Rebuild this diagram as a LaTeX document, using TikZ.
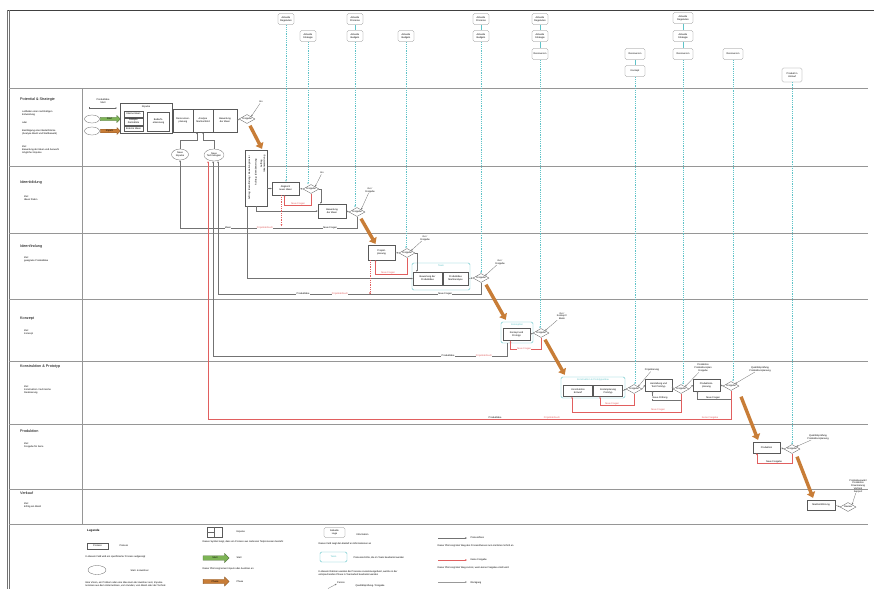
\documentclass[tikz,border=0pt]{standalone}
\usepackage{fontspec}
\setmainfont{Liberation Sans}
\usetikzlibrary{arrows.meta,shapes.geometric,shapes.arrows,calc}
\definecolor{tealc}{RGB}{95,195,200}
\definecolor{redc}{RGB}{225,95,95}
\definecolor{orc}{RGB}{200,125,55}
\definecolor{grnc}{RGB}{125,180,85}
\definecolor{lanec}{RGB}{150,150,150}
\newcommand{\ftiny}{\fontsize{2.4}{2.8}\selectfont}
\newcommand{\fsmall}{\fontsize{3}{3.5}\selectfont}
\newcommand{\flane}{\fontsize{3.8}{4.4}\selectfont}
\begin{document}
\begin{tikzpicture}[x=1pt,y=-1pt,
  proc/.style={draw=black!65, line width=0.3pt, fill=white, align=center, font=\ftiny, inner sep=0.3pt},
  gate/.style={diamond, aspect=2, draw=black!65, line width=0.3pt, fill=white, font=\ftiny, inner sep=0pt, minimum width=16pt, minimum height=9pt},
  ext/.style={draw=black!50, rounded corners=1.5pt, line width=0.3pt, fill=white, align=center, font=\ftiny, inner sep=0.3pt, minimum height=11pt, minimum width=16pt},
  grp/.style={draw=tealc, line width=0.45pt, rounded corners=1.5pt, fill=white},
  flow/.style={draw=black!55, line width=0.3pt, -{Stealth[length=2pt,width=1.6pt]}},
  fbred/.style={draw=redc, line width=0.3pt, -{Stealth[length=2pt,width=1.6pt]}},
  reddash/.style={draw=redc, line width=0.3pt, dash pattern=on 1pt off 0.8pt, -{Stealth[length=2pt,width=1.6pt]}},
  info/.style={draw=tealc, line width=0.45pt, dash pattern=on 1.2pt off 1pt, -{Stealth[length=2pt,width=1.6pt]}},
  infol/.style={draw=tealc, line width=0.4pt},
  phase/.style={draw=orc, line width=3.4pt, -{Triangle[length=5.5pt,width=8.5pt]}},
  lbl/.style={font=\ftiny, fill=white, inner sep=0.3pt},
  lbr/.style={lbl, text=redc},
  note/.style={font=\ftiny, align=center, inner sep=0.3pt},
  lanet/.style={font=\flane, anchor=west, inner sep=0pt},
  laned/.style={font=\ftiny, anchor=north west, align=left, inner sep=0pt},
  lane/.style={draw=lanec, line width=0.5pt},
  sarrow/.style={single arrow, single arrow head extend=1.5pt, inner sep=0.4pt, font=\ftiny, line width=0.3pt}
]
\useasboundingbox (0,0) rectangle (874,589);
\fill[white] (0,0) rectangle (874,589);

% frame and lanes
\draw[black!75, line width=0.6pt] (7,10) -- (874,10);
\draw[black!55, line width=0.5pt] (7,10) -- (7,589);
\draw[black!55, line width=0.5pt] (9.2,10) -- (9.2,589);
\foreach \yy in {88,166,233,299,361,424,489,524} { \draw[lane] (9.2,\yy) -- (868,\yy); }
\draw[lane] (82,88) -- (82,524);

% lane labels
\node[lanet] (ln1) at (20,100) {Potential \& Strategie};
\node[laned] (ld1a) at (22,111) {Leitfaden einer nachhaltigen\\Entwicklung};
\node[laned] (ld1b) at (22,122) {oder};
\node[laned] (ld1c) at (22,130) {Bestätigung einer Bedarfslücke\\(Analyse Markt und Wettbewerb)};
\node[laned] (ld1d) at (22,146) {Ziel:\\Bewertung der Ideen und Auswahl\\möglicher Impulse};
\node[lanet] (ln2) at (20,183) {Ideenbildung};
\node[laned] (ld2) at (24,196) {Ziel:\\Ideen finden};
\node[lanet] (ln3) at (20,247) {Ideenfindung};
\node[laned] (ld3) at (24,257) {Ziel:\\geeignete Produktidee};
\node[lanet] (ln4) at (20,319) {Konzept};
\node[laned] (ld4) at (24,330) {Ziel:\\Konzept};
\node[lanet] (ln5) at (20,367) {Konstruktion \& Prototyp};
\node[laned] (ld5) at (24,386) {Ziel:\\Konstruktion / technische\\Realisierung};
\node[lanet] (ln6) at (20,431) {Produktion};
\node[laned] (ld6) at (24,443) {Ziel:\\Freigabe für Serie};
\node[lanet] (ln7) at (20,493) {Verkauf};
\node[laned] (ld7) at (24,503) {Ziel:\\Erfolg am Markt};

% ---------- lane 1 ----------
\node[note] (pst) at (103,101.5) {Produktidee\\Start};
\coordinate (h1) at (89,108);
\coordinate (h2) at (117,108);
\draw[black!60, line width=0.3pt, {Bar[width=2pt]}-{Stealth[length=1.6pt,width=1.4pt]}] (h1) -- (h2);
\node[ellipse, draw=black!60, line width=0.3pt, minimum width=15pt, minimum height=8pt, inner sep=0] (e1) at (92,119) {};
\node[ellipse, draw=black!60, line width=0.3pt, minimum width=15pt, minimum height=8pt, inner sep=0] (e2) at (92,131) {};
\node[sarrow, draw=grnc!60!black, fill=grnc, minimum height=20pt, minimum width=7pt] (sa1) at (109.5,119) {Start};
\node[sarrow, draw=orc!70!black, fill=orc, minimum height=20pt, minimum width=7pt] (sa2) at (109.5,131) {Impuls};

\node[proc, minimum width=52pt, minimum height=30pt] (imp) at (146,118) {};
\node[note] (impt) at (146,106.5) {Impulse};
\node[proc, minimum width=19pt, minimum height=5.5pt] (i1) at (133.5,114) {Interne Ideen};
\node[proc, minimum width=19pt, minimum height=7pt] (i2) at (133.5,121.5) {Analyse\\Zielmärkte};
\node[proc, minimum width=19pt, minimum height=5.5pt] (i3) at (133.5,128.5) {Externe Ideen};
\node[proc, minimum width=22pt, minimum height=19pt] (i4) at (158.5,121.5) {Bedarfs-\\erkennung};
\node[proc, minimum width=20pt, minimum height=23pt] (b2) at (183,120.5) {Ressourcen-\\planung};
\node[proc, minimum width=20pt, minimum height=23pt] (b3) at (203,120.5) {Analyse\\Marktumfeld};
\node[proc, minimum width=24pt, minimum height=23pt] (b4) at (225,120.5) {Bewertung\\der Ideen};
\node[gate] (g1) at (247,119) {Freigabe};
\node[note] (go1) at (261,102) {Go};
\draw[flow] (b4.east) -- (g1.west);
\draw[flow] (go1) -- (g1.north east);

\node[ellipse, draw=black!60, line width=0.3pt, minimum width=17pt, minimum height=11pt, inner sep=0, font=\ftiny, align=center] (e3) at (180,154.5) {Neue\\Impulse};
\node[ellipse, draw=black!60, line width=0.3pt, minimum width=19pt, minimum height=12pt, inner sep=0, font=\ftiny, align=center] (e4) at (214,155) {Neue\\Technologien};
\draw[flow] (e3.north) -- ++(0,-9) -| ($(b3.south west)+(4,0)$);
\draw[flow] (e4.north) -- ++(0,-9) -| ($(b3.south east)+(-10,0)$);

% ---------- lane 2 ----------
\node[proc, minimum width=22pt, minimum height=56pt] (tr) at (256,178) {};
\node[note, rotate=90] (tr1) at (249.5,178) {Auftrag: Ideenfindung / Bewertungsraster};
\node[note, rotate=90] (tr2) at (256,172) {Auftrag: Ideenbewertung};
\node[note, rotate=90] (tr3) at (263,164) {Auftrag\\Ideensammlung};
\draw[phase] ($(g1.south)+(3,2)$) -- ($(tr.north)+(6,-1)$);

\node[proc, minimum width=27pt, minimum height=13pt] (a1) at (285.5,188.5) {Abgleich\\neuer Ideen};
\node[gate] (g2) at (311,189) {Freigabe};
\node[note] (go2) at (322,173) {Go};
\node[proc, minimum width=28pt, minimum height=14pt] (a2) at (332,211) {Bewertung\\der Ideen};
\node[gate] (g3) at (357,212) {Freigabe};
\node[note] (go3) at (370,190) {Go /\\Freigabe};
\draw[flow] (tr.east |- a1.west) -- (a1.west);
\draw[flow] (a1.east) -- (g2.west);
\draw[flow] (g2.east) -| ($(a2.north west)+(3,0)$);
\draw[flow] (tr.south) |- (a2.west);
\draw[flow] (a2.east) -- (g3.west);
\draw[flow] (go2) -- (g2.north east);
\draw[flow] (go3) -- (g3.north east);
\draw[fbred] (g2.south) -- ++(0,11) -| ($(a1.south)+(-1,0)$);
\node[lbr] (nf2) at (298,204) {Neue Fragen};
\draw[reddash] ($(a1.south)+(-4,0)$) -- ++(0,31);
\draw[flow] (g3.south) -- ++(0,11) -| (e3.south);
\node[lbl] (nf3) at (330,228) {Neue Fragen};
\node[lbr] (pa2) at (265,228) {Projektabbruch};
\node[lbl] (id2) at (228,228) {Ideen};

% ---------- lane 3 ----------
\node[proc, minimum width=27pt, minimum height=15pt] (pp) at (381.5,252.5) {Projekt-\\planung};
\draw[phase] ($(g3.south)+(4,2)$) -- ($(pp.north)+(-6,-1)$);
\node[gate] (g4) at (407,253) {Freigabe};
\node[note] (go4) at (425,238) {Go /\\Freigabe};
\node[grp, minimum width=58pt, minimum height=27pt] (tg) at (441,276.5) {};
\node[note, text=tealc] (tgt) at (441,266) {Team};
\node[proc, minimum width=29pt, minimum height=13pt] (t1) at (427.5,278.5) {Bewertung der\\Produktidee};
\node[proc, minimum width=25pt, minimum height=13pt] (t2) at (455.5,278.5) {Produktidee\\Marktanalyse};
\node[gate] (g5) at (481,278) {Freigabe};
\node[note] (go5) at (500,262) {Go /\\Freigabe};
\draw[flow] (pp.east) -- (g4.west);
\draw[flow] (g4.east) -| ($(t1.north west)+(4,0)$);
\draw[flow] ($(tr.south west)+(2,0)$) |- (t1.west);
\draw[flow] (t2.east) -- (g5.west);
\draw[flow] (go4) -- (g4.north east);
\draw[flow] (go5) -- (g5.north east);
\draw[fbred] (g4.south) -- ++(0,16) -| ($(pp.south)+(-6,0)$);
\node[lbr] (nf4) at (388,273) {Neue Fragen};
\draw[reddash] ($(pp.south west)+(2,0)$) -- ++(0,34);
\draw[flow] (g5.south) -- ++(0,11) -| ($(e4.south)+(4,0)$);
\node[lbl] (nf5) at (445,294) {Neue Fragen};
\node[lbr] (pa3) at (340,294) {Projektabbruch};
\node[lbl] (pi3) at (303,294) {Produktidee};

% ---------- lane 4 ----------
\node[grp, minimum width=32pt, minimum height=21pt] (kg) at (517,332.5) {};
\node[note, text=tealc] (kgt) at (517,324.5) {Konzeption};
\node[proc, minimum width=27pt, minimum height=12pt] (k1) at (516.5,334.5) {Konzept und\\Prototyp};
\node[gate] (g6) at (541,333) {Freigabe};
\node[note] (go6) at (562,316) {Go /\\Konzept /\\Basis};
\draw[phase] ($(g5.south)+(5,2)$) -- ($(kg.north west)+(5,-2)$);
\draw[flow] (k1.east) -- (g6.west);
\draw[flow] (go6) -- (g6.north east);
\draw[fbred] (g6.south) -- ++(0,11) -| ($(k1.south)+(-6,0)$);
\node[lbr] (nf6) at (524,349) {Neue Fragen};
\draw[flow] ($(kg.south)+(-10,0)$) -- ++(0,13) -| ($(e4.south)+(-1,0)$);
\node[lbr] (pa4) at (484,356) {Projektabbruch};
\node[lbl] (pi4) at (448,356) {Produktidee};

% ---------- lane 5 ----------
\node[grp, minimum width=64pt, minimum height=21pt] (kp) at (593,387.5) {};
\node[note, text=tealc] (kpt) at (593,379.5) {Konstruktion \& Prototypenbau};
\node[proc, minimum width=29pt, minimum height=11pt] (c1) at (578,391) {Konstruktion\\Entwurf};
\node[proc, minimum width=29pt, minimum height=11pt] (c2) at (608,391) {Kostenplanung\\Prototyp};
\node[gate] (g7) at (634,389) {Freigabe};
\node[note] (l7) at (652,370) {Projektierung};
\node[proc, minimum width=27pt, minimum height=12pt] (c3) at (658.5,385) {Herstellung und\\Test Prototyp};
\node[gate] (g8) at (681,389) {Freigabe};
\node[note] (l8) at (703,368) {Produktion\\Produktionsplan\\Freigabe};
\node[proc, minimum width=27pt, minimum height=12pt] (c4) at (706.5,385) {Produktions-\\planung};
\node[gate] (g9) at (731,386) {Freigabe};
\node[note] (l9) at (760,369) {Qualitätsprüfung\\Produktionsplanung};
\draw[phase] ($(g6.south)+(4,2)$) -- ($(kp.north west)+(4,-2)$);
\draw[flow] (c2.east) -- (g7.west);
\draw[flow] (g7.east) -- (c3.west);
\draw[flow] (c3.east) -- (g8.west);
\draw[flow] (g8.east) -- (c4.west);
\draw[flow] (c4.east) -- (g9.west);
\draw[flow] (l7) -- (g7.north east);
\draw[flow] (l8) -- (g8.north east);
\draw[flow] (l9) -- (g9.north east);
\draw[fbred] (g7.south) -- ++(0,11) -| ($(c2.south)+(-8,0)$);
\node[lbr] (nf7) at (612,404) {Neue Fragen};
\draw[flow] (g8.south) -- ++(0,6) -| ($(c3.south)+(-6,0)$);
\node[lbl] (np8) at (660,397.5) {Neue Prüfung};
\draw[fbred] (g8.south) -- ++(0,18) -| ($(c1.south)+(-6,0)$);
\node[lbr] (nf8) at (658,410) {Neue Fragen};
\draw[flow] (g9.south) -- ++(0,8) -| ($(c4.south)+(-9,0)$);
\node[lbl] (nf9) at (713,398) {Neue Fragen};
\draw[fbred] (g9.south) -- ++(0,28) -| ($(e4.south)+(-6,0)$);
\node[lbr] (kf9) at (710,418) {Keine Freigabe};
\node[lbr] (pa5) at (552,418) {Projektabbruch};
\node[lbl] (pi5) at (495,418) {Produktidee};

% ---------- lane 6 ----------
\node[proc, minimum width=27pt, minimum height=11pt] (pr) at (766.5,447.5) {Produktion};
\node[gate] (g10) at (792,449) {Freigabe};
\node[note] (l10) at (818,437) {Qualitätsprüfung\\Produktionsplanung};
\draw[phase] ($(g9.south)+(10,6)$) -- ($(pr.north)+(-8.5,-2)$);
\draw[flow] (pr.east) -- (g10.west);
\draw[flow] (l10) -- (g10.north east);
\draw[fbred] (g10.south) -- ++(0,9) -| ($(pr.south west)+(4,0)$);
\node[lbl] (nf10) at (774,462) {Neue Freigabe};

% ---------- lane 7 ----------
\node[proc, minimum width=28pt, minimum height=10pt] (mk) at (821,505) {Markteinführung};
\node[gate] (g11) at (848,507) {Review};
\node[note] (l11) at (858,486) {Produktauswahl\\Produktion\\Finanzierung\\Vertrieb\\Support};
\draw[phase] ($(g10.south)+(5,3)$) -- ($(mk.north)+(-8,-2)$);
\draw[flow] (mk.east) -- (g11.west);
\draw[flow] (l11) -- (g11.north east);

% ---------- top information boxes ----------
\node[ext] (x1) at (286,19) {Aktuelle\\Regularien};
\node[ext] (x2) at (308,36) {Aktuelle\\Strategie};
\node[ext] (x3) at (355,19) {Aktuelle\\Prozesse};
\node[ext] (x4) at (355,36) {Aktuelle\\Budgets};
\node[ext] (x5) at (406,36) {Aktuelle\\Budgets};
\node[ext] (x6) at (481,19) {Aktuelle\\Prozesse};
\node[ext] (x7) at (481,36) {Aktuelle\\Budgets};
\node[ext] (x8) at (540,19) {Aktuelle\\Regularien};
\node[ext] (x9) at (540,36) {Aktuelle\\Strategie};
\node[ext] (x10) at (540,54) {Ressourcen};
\node[ext, minimum width=20pt] (x11) at (635,54) {Ressourcen};
\node[ext, minimum width=20pt] (x12) at (635,71) {Konzept};
\node[ext, minimum width=20pt] (x13) at (683,18) {Aktuelle\\Regularien};
\node[ext, minimum width=20pt] (x14) at (683,36) {Aktuelle\\Strategie};
\node[ext, minimum width=20pt] (x15) at (683,54) {Ressourcen};
\node[ext, minimum width=20pt] (x16) at (733,54) {Ressourcen};
\node[ext, minimum width=20pt, minimum height=14pt] (x17) at (792,75) {Produkt in\\Umlauf};
\draw[infol] (x3.south) -- (x4.north);
\draw[infol] (x6.south) -- (x7.north);
\draw[infol] (x8.south) -- (x9.north);
\draw[infol] (x9.south) -- (x10.north);
\draw[infol] (x11.south) -- (x12.north);
\draw[infol] (x13.south) -- (x14.north);
\draw[infol] (x14.south) -- (x15.north);
\draw[info] (x1.south) -- (a1.north -| x1.south);
\draw[info] (x2.south) -- (g2.north -| x2.south);
\draw[info] (x4.south) -- (g3.north -| x4.south);
\draw[info] (x5.south) -- (g4.north -| x5.south);
\draw[info] (x7.south) -- (g5.north -| x7.south);
\draw[info] (x10.south) -- (g6.north -| x10.south);
\draw[info] (x12.south) -- (g7.north -| x12.south);
\draw[info] (x15.south) -- (g8.north -| x15.south);
\draw[info] (x16.south) -- (g9.north -| x16.south);
\draw[info] (x17.south) -- (g10.north -| x17.south);

% ---------- legend ----------
\node[font=\fsmall\bfseries, anchor=west, inner sep=0] (leg) at (87,531) {Legende};
\node[proc, minimum width=21pt, minimum height=6pt] (lp) at (97.5,546) {Prozess};
\node[note, anchor=west] (lpl) at (119,545.5) {Prozess};
\node[note, anchor=west] (lpd) at (85,557) {In diesem Feld wird ein spezifizierter Prozess aufgezeigt};
\node[ellipse, draw=black!60, line width=0.3pt, minimum width=18pt, minimum height=9pt, inner sep=0] (le) at (97,570) {};
\node[note, anchor=west] (lel) at (130,571) {Start- \& Auslöser};
\node[note, anchor=west, align=left] (led) at (85,584) {Eine Vision, ein Problem oder eine Idee kann der Auslöser sein; Impulse\\kommen aus dem Unternehmen, vom Kunden, vom Markt oder der Technik};

\node[proc, minimum width=15pt, minimum height=10pt] (lsi) at (214.5,532) {};
\draw[black!60, line width=0.3pt] (lsi.north) -- (lsi.south);
\draw[black!60, line width=0.3pt] (lsi.west) -- (lsi.center);
\node[note, anchor=west] (lsl) at (236,532) {Impulse};
\node[note, anchor=west] (lsd) at (202,541.5) {Dieses Symbol zeigt, dass ein Prozess aus mehreren Teilprozessen besteht};
\node[sarrow, draw=grnc!60!black, fill=grnc, minimum height=26pt, minimum width=9pt] (lga) at (215,558) {Start};
\node[note, anchor=west] (lgl) at (236,558) {Start};
\node[note, anchor=west] (lgd) at (202,568.5) {Dieser Pfeil zeigt einen Impuls oder Auslöser an};
\node[sarrow, draw=orc!70!black, fill=orc, minimum height=26pt, minimum width=9pt] (loa) at (215,581.5) {Phase};
\node[note, anchor=west] (lol) at (236,581.5) {Phase};

\node[ext, minimum width=21pt, minimum height=10pt] (lx) at (334.5,532.5) {Aktuelle\\Lage};
\node[note, anchor=west] (lxl) at (356,535) {Information};
\node[note, anchor=west] (lxd) at (318,543.5) {Dieses Feld zeigt den Bedarf an Informationen an};
\node[grp, minimum width=27pt, minimum height=10pt, text=tealc, font=\ftiny, inner sep=0.3pt] (lg) at (333.5,557) {Team};
\node[note, anchor=west] (lgl2) at (353,558) {Prozessschritte, die im Team bearbeitet werden};
\node[note, anchor=west, align=left] (lgd2) at (318,573) {In diesem Rahmen werden die Prozesse zusammengefasst, welche in der\\entsprechenden Phase in Teamarbeit bearbeitet werden};
\node[note] (lpn) at (341,582.5) {Person};
\coordinate (lc1) at (328,588.5);
\draw[flow] (lc1) -- (lpn.south west);
\node[note, anchor=west] (lql) at (355,586) {Qualitätsprüfung / Freigabe};

\coordinate (lf1) at (438,538);
\coordinate (lf2) at (467,538);
\draw[flow] (lf1) -- (lf2);
\node[note, anchor=west] (lfl) at (470,538) {Prozessfluss};
\node[note, anchor=west] (lfd) at (437,546) {Dieser Pfeil zeigt den Weg des Prozessflusses zum nächsten Schritt an};
\coordinate (lr1) at (438,560);
\coordinate (lr2) at (467,560);
\draw[fbred] (lr1) -- (lr2);
\node[note, anchor=west] (lrl) at (470,560) {Keine Freigabe};
\node[note, anchor=west] (lrd) at (437,568) {Dieser Pfeil zeigt den Weg zurück, wenn keine Freigabe erteilt wird};
\coordinate (lk1) at (438,582);
\coordinate (lk2) at (467,582);
\draw[flow, draw=black!40] (lk1) -- (lk2);
\node[note, anchor=west] (lkl) at (470,582.5) {Rückgang};
\end{tikzpicture}
\end{document}
